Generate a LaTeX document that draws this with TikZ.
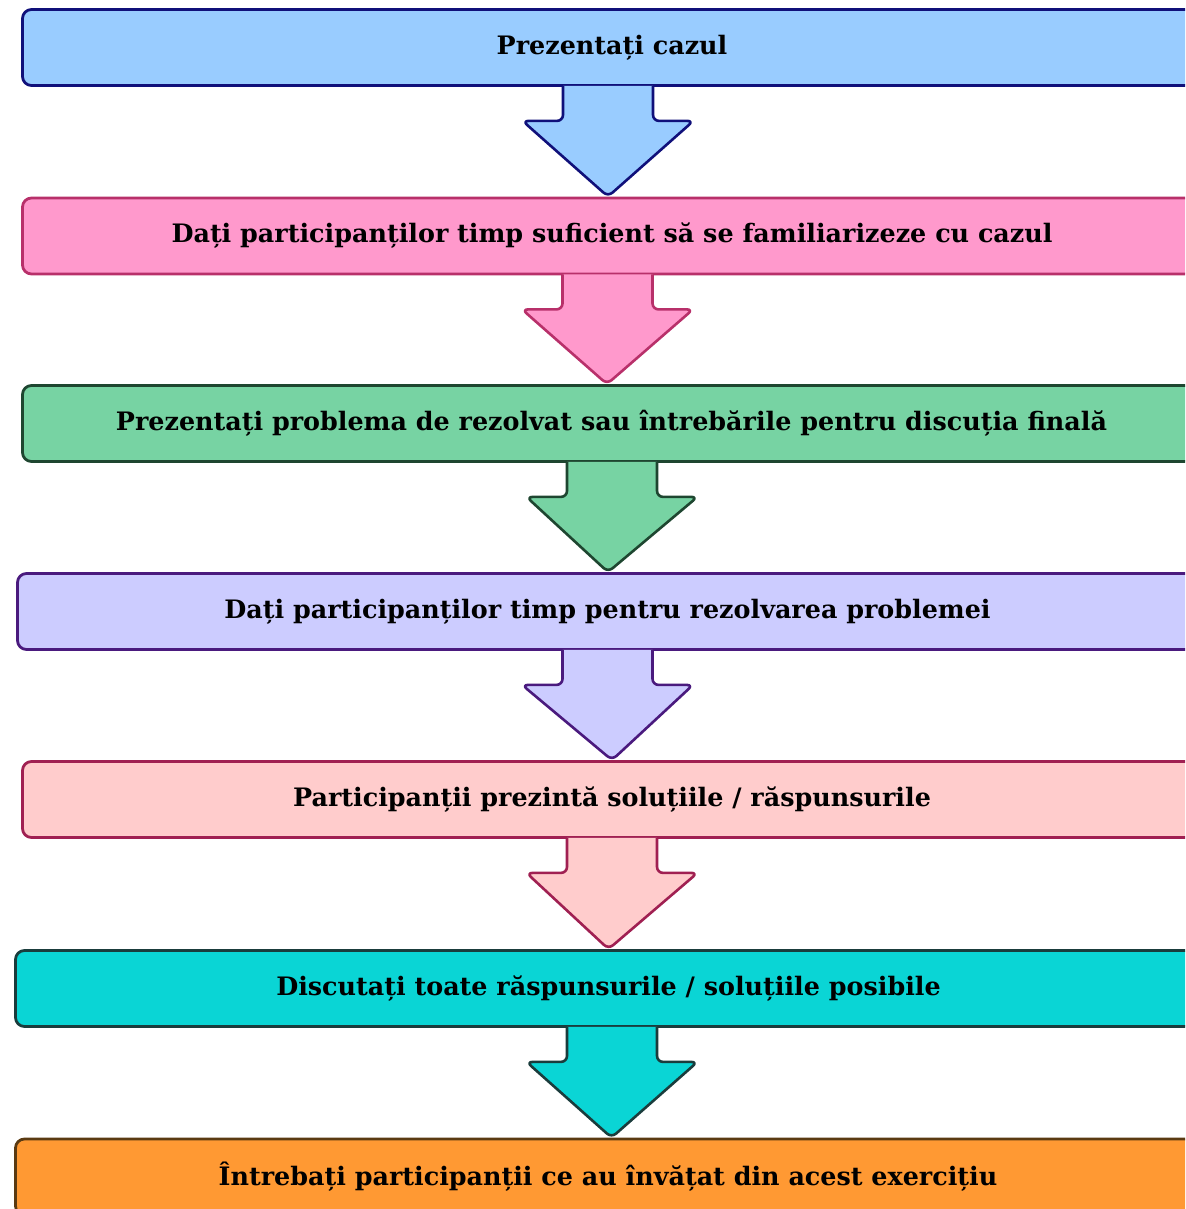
\documentclass[tikz,border=0pt]{standalone}
\usepackage{fontspec}
\setmainfont{DejaVu Serif}
\usetikzlibrary{calc}

% box colours (fill / line)
\definecolor{cazfill}{HTML}{99CCFF}   \definecolor{cazline}{HTML}{10107A}
\definecolor{timpfill}{HTML}{FF99CC}  \definecolor{timpline}{HTML}{B8306A}
\definecolor{probfill}{HTML}{77D3A3}  \definecolor{probline}{HTML}{1E4630}
\definecolor{rezfill}{HTML}{CCCCFF}   \definecolor{rezline}{HTML}{4A1A7E}
\definecolor{solfill}{HTML}{FFCCCC}   \definecolor{solline}{HTML}{A02052}
\definecolor{discfill}{HTML}{0AD5D5}  \definecolor{discline}{HTML}{1A3C3C}
\definecolor{invfill}{HTML}{FF9933}   \definecolor{invline}{HTML}{5A3A12}

\tikzset{
  stepbox/.style={draw, line width=2.8pt, rounded corners=9pt,
    minimum height=76pt, inner sep=0pt,
    font=\bfseries\fontsize{25.4}{30}\selectfont},
  flowarrow/.style={line width=2.6pt, rounded corners=6pt, line join=round}
}

\begin{document}
\begin{tikzpicture}[x=1pt,y=-1pt]
  \useasboundingbox (0,0) rectangle (1185,1209);
  \clip (0,0) rectangle (1185,1209);
  % the steps, top to bottom
  \node[stepbox, fill=cazfill,  draw=cazline,  minimum width=1179pt] (caz)  at (612,47.5)   {Prezentați cazul};
  \node[stepbox, fill=timpfill, draw=timpline, minimum width=1179pt] (timp) at (612,236)    {Dați participanților timp suficient să se familiarizeze cu cazul};
  \node[stepbox, fill=probfill, draw=probline, minimum width=1178pt] (prob) at (611.5,423.5) {Prezentați problema de rezolvat sau întrebările pentru discuția finală};
  \node[stepbox, fill=rezfill,  draw=rezline,  minimum width=1180pt] (rez)  at (607.5,611.5) {Dați participanților timp pentru rezolvarea problemei};
  \node[stepbox, fill=solfill,  draw=solline,  minimum width=1179pt] (sol)  at (612,799.5)  {Participanții prezintă soluțiile / răspunsurile};
  \node[stepbox, fill=discfill, draw=discline, minimum width=1186pt] (disc) at (608.5,988.5) {Discutați toate răspunsurile / soluțiile posibile};
  \node[stepbox, fill=invfill,  draw=invline,  minimum width=1185pt] (inv)  at (608,1177)   {Întrebați participanții ce au învățat din acest exercițiu};
  % block arrows between the steps
  \foreach \a/\b/\s in {caz/timp/-4, timp/prob/-4.5, prob/rez/0.5, rez/sol/0, sol/disc/0, disc/inv/3.5} {
    \draw[flowarrow, draw=\a line, fill=\a fill]
      ($(\a.south)+(\s-45,-1)$) -- ++(0,35) -- ++(-40.5,0)
      -- ($(\b.north)+(\s,0)$)
      -- ($(\a.south)+(\s+85.5,34)$) -- ++(-40.5,0)
      -- ($(\a.south)+(\s+45,-1)$);
  }
\end{tikzpicture}
\end{document}
